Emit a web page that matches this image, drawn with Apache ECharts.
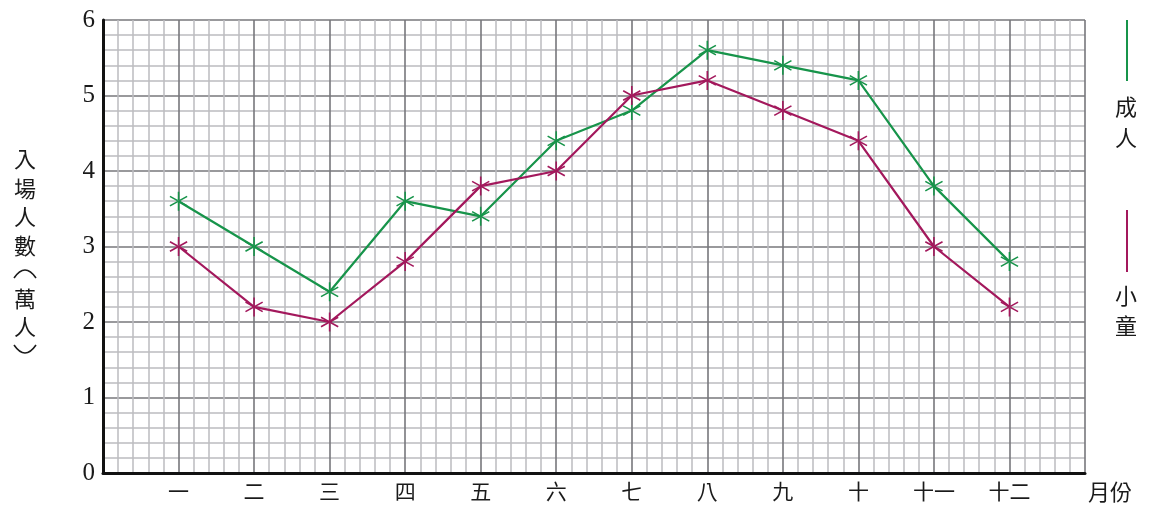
<!DOCTYPE html>
<html><head><meta charset="utf-8">
<script src="https://cdn.jsdelivr.net/npm/echarts@6/dist/echarts.min.js"></script>
<style>html,body{margin:0;padding:0;background:#fff}#c{width:1152px;height:510px}</style>
</head><body><div id="c"></div>
<script>
const months = ['一','二','三','四','五','六','七','八','九','十','十一','十二'];
const adults = [3.6, 3.0, 2.4, 3.6, 3.4, 4.4, 4.8, 5.6, 5.4, 5.2, 3.8, 2.8];
const children = [3.0, 2.2, 2.0, 2.8, 3.8, 4.0, 5.0, 5.2, 4.8, 4.4, 3.0, 2.2];
const yTicks = [0, 1, 2, 3, 4, 5, 6];
const seriesNames = ['成人', '小童'];

const GREEN = '#17944a', MAG = '#a3185c';
const star = 'path://M46,0L54,0L54,100L46,100Z M4.7,28.46L91.3,78.46L95.3,71.54L8.7,21.54Z M8.7,78.46L95.3,28.46L91.3,21.54L4.7,71.54Z';
const serif = '"Liberation Serif", "DejaVu Serif", serif';
const cjk = '"Noto Sans CJK TC", "Noto Sans CJK SC", sans-serif';

function toPts(arr){ return arr.map((v,i)=>[i+1, v]); }

const chart = echarts.init(document.getElementById('c'));
const yLabelChars = [['入',160],['場',190],['人',218],['數',247],['萬',300],['人',328]];
const graphics = yLabelChars.map(([ch,y])=>({type:'text', left:14, top:y-12, style:{text:ch, font:'22px '+cjk, fill:'#1a1a1a'}}));
graphics.push(
  {type:'bezierCurve', shape:{x1:14,y1:278,cpx1:25,cpy1:262,x2:36,y2:278}, style:{stroke:'#1a1a1a', lineWidth:1.6, fill:null}},
  {type:'bezierCurve', shape:{x1:14,y1:345,cpx1:25,cpy1:361,x2:36,y2:345}, style:{stroke:'#1a1a1a', lineWidth:1.6, fill:null}},
  {type:'line', shape:{x1:1127,y1:20,x2:1127,y2:81}, style:{stroke:GREEN, lineWidth:2}},
  {type:'text', left:1115, top:96, style:{text:seriesNames[0][0], font:'22px '+cjk, fill:'#1a1a1a'}},
  {type:'text', left:1115, top:127, style:{text:seriesNames[0][1], font:'22px '+cjk, fill:'#1a1a1a'}},
  {type:'line', shape:{x1:1127,y1:210,x2:1127,y2:272}, style:{stroke:MAG, lineWidth:2}},
  {type:'text', left:1115, top:285, style:{text:seriesNames[1][0], font:'22px '+cjk, fill:'#1a1a1a'}},
  {type:'text', left:1115, top:315, style:{text:seriesNames[1][1], font:'22px '+cjk, fill:'#1a1a1a'}},
  {type:'text', left:1088, top:481, style:{text:'月份', font:'22px '+cjk, fill:'#1a1a1a'}}
);

chart.setOption({
  animation:false,
  backgroundColor:'#fff',
  grid:{left:103, right:67, top:20, bottom:37},
  xAxis:{type:'value', min:0, max:13, interval:1,
    axisLine:{show:true, onZero:false, lineStyle:{color:'#111', width:3}},
    axisTick:{show:false},
    axisLabel:{margin:8, fontFamily:cjk, fontSize:21, color:'#1a1a1a',
      formatter:v=> (v>=1 && v<=12) ? months[v-1] : '', showMinLabel:true, showMaxLabel:true},
    splitLine:{show:true, lineStyle:{color:'#77777b', width:1.6}},
    minorTick:{show:false, splitNumber:5},
    minorSplitLine:{show:true, lineStyle:{color:'#bcbcc0', width:1.5}}
  },
  yAxis:{type:'value', min:0, max:6, interval:1,
    axisLine:{show:true, onZero:false, lineStyle:{color:'#111', width:3}},
    axisTick:{show:false},
    axisLabel:{margin:8, fontFamily:serif, fontSize:25, color:'#1a1a1a',
      formatter:v=> yTicks.includes(v) ? String(v) : ''},
    splitLine:{show:true, lineStyle:{color:'#77777b', width:1.6}},
    minorTick:{show:false, splitNumber:5},
    minorSplitLine:{show:true, lineStyle:{color:'#bcbcc0', width:1.5}}
  },
  series:[
    {name:seriesNames[0], type:'line', data:toPts(adults), symbol:star, symbolSize:[18,19],
      lineStyle:{color:GREEN, width:2.2}, itemStyle:{color:GREEN}, z:3},
    {name:seriesNames[1], type:'line', data:toPts(children), symbol:star, symbolSize:[18,19],
      lineStyle:{color:MAG, width:2.2}, itemStyle:{color:MAG}, z:4}
  ],
  graphic:graphics
});
</script></body></html>
